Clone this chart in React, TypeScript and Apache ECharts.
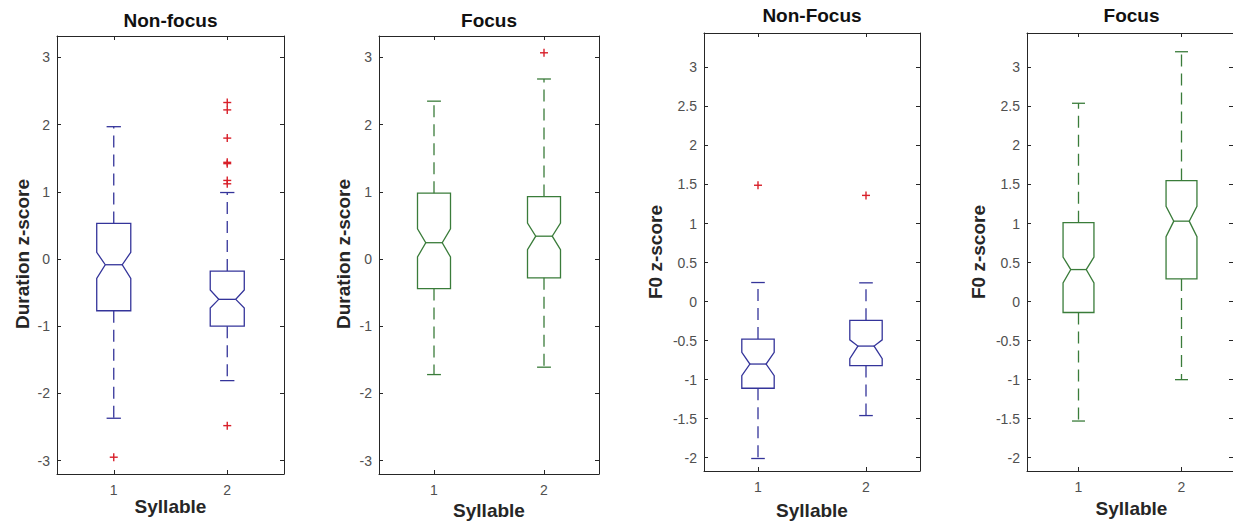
import { useEffect, useRef } from 'react';
import * as echarts from 'echarts';

const categories = ['1', '2'];

// Each box: [lowerWhisker, q1, notchLow, median, notchHigh, q3, upperWhisker]
const durationNonFocusBoxes = [
  [-2.37, -0.77, -0.29, -0.085, 0.1, 0.53, 1.97],
  [-1.81, -1.0, -0.73, -0.6, -0.46, -0.18, 0.99],
];
const durationNonFocusOutliers = [
  [0, -2.95],
  [1, 2.33], [1, 2.22], [1, 1.8], [1, 1.44], [1, 1.42], [1, 1.17], [1, 1.12], [1, -2.48],
];

const durationFocusBoxes = [
  [-1.72, -0.44, 0.03, 0.243, 0.45, 0.98, 2.35],
  [-1.61, -0.28, 0.14, 0.34, 0.535, 0.93, 2.68],
];
const durationFocusOutliers = [[1, 3.07]];

const f0NonFocusBoxes = [
  [-2.01, -1.11, -0.95, -0.8, -0.65, -0.48, 0.244],
  [-1.46, -0.82, -0.73, -0.57, -0.49, -0.24, 0.24],
];
const f0NonFocusOutliers = [[0, 1.49], [1, 1.36]];

const f0FocusBoxes = [
  [-1.53, -0.14, 0.24, 0.41, 0.57, 1.01, 2.54],
  [-1.0, 0.29, 0.83, 1.03, 1.22, 1.55, 3.2],
];
const f0FocusOutliers: number[][] = [];

const durationTicks = [-3, -2, -1, 0, 1, 2, 3];
const f0Ticks = [-2, -1.5, -1, -0.5, 0, 0.5, 1, 1.5, 2, 2.5, 3];

const titles = ['Non-focus', 'Focus', 'Non-Focus', 'Focus'];
const yNames = ['Duration z-score', 'Duration z-score', 'F0 z-score', 'F0 z-score'];
const xName = 'Syllable';

const BLUE = '#34349a';
const GREEN = '#3a7c3a';
const RED = '#d8202a';
const FONT = '"Liberation Sans", Arial, Helvetica, sans-serif';

const panels = [
  { boxes: durationNonFocusBoxes, outliers: durationNonFocusOutliers, ticks: durationTicks, min: -3.2, max: 3.32, color: BLUE,
    grid: { left: 57, top: 36, width: 227, height: 438 }, titleY: 20, xNameY: 506, yNameX: 22, yNameY: 254 },
  { boxes: durationFocusBoxes, outliers: durationFocusOutliers, ticks: durationTicks, min: -3.2, max: 3.32, color: GREEN,
    grid: { left: 379, top: 36, width: 220, height: 438 }, titleY: 20, xNameY: 510, yNameX: 343, yNameY: 254 },
  { boxes: f0NonFocusBoxes, outliers: f0NonFocusOutliers, ticks: f0Ticks, min: -2.17, max: 3.44, color: BLUE,
    grid: { left: 704, top: 33, width: 216, height: 438 }, titleY: 15, xNameY: 510, yNameX: 655, yNameY: 252 },
  { boxes: f0FocusBoxes, outliers: f0FocusOutliers, ticks: f0Ticks, min: -2.17, max: 3.44, color: GREEN,
    grid: { left: 1027, top: 33, width: 209, height: 438 }, titleY: 15, xNameY: 508, yNameX: 978, yNameY: 252 },
];

export default function App() {
  const ref = useRef<HTMLDivElement>(null);
  useEffect(() => {
    if (!ref.current) return;
    const chart = echarts.init(ref.current, undefined, { renderer: 'svg' });
    const grids: any[] = [];
    const xAxes: any[] = [];
    const yAxes: any[] = [];
    const series: any[] = [];
    const graphics: any[] = [];
    const axisLine = { show: true, onZero: false, lineStyle: { color: '#262626', width: 1 } };
    const tick = { show: true, inside: true, length: 4, lineStyle: { color: '#262626', width: 1 } };

    panels.forEach((p, i) => {
      grids.push({ ...p.grid, containLabel: false });
      xAxes.push({
        type: 'category', gridIndex: i, data: categories, position: 'bottom', boundaryGap: true,
        axisLine, axisTick: { ...tick, alignWithLabel: true },
        axisLabel: { color: '#505050', fontSize: 14, fontFamily: FONT, margin: 9 },
        splitLine: { show: false },
      });
      xAxes.push({
        type: 'category', gridIndex: i, data: categories, position: 'top', boundaryGap: true,
        axisLine, axisTick: { ...tick, alignWithLabel: true }, axisLabel: { show: false }, splitLine: { show: false },
      });
      yAxes.push({
        type: 'value', gridIndex: i, min: p.min, max: p.max, position: 'left',
        axisLine, axisTick: { ...tick, customValues: p.ticks },
        axisLabel: { color: '#505050', fontSize: 14, fontFamily: FONT, margin: 7, customValues: p.ticks,
          formatter: (v: number) => String(v) },
        splitLine: { show: false },
      });
      yAxes.push({
        type: 'value', gridIndex: i, min: p.min, max: p.max, position: 'right',
        axisLine, axisTick: { ...tick, customValues: p.ticks }, axisLabel: { show: false, customValues: p.ticks },
        splitLine: { show: false },
      });
      const color = p.color;
      series.push({
        type: 'custom', xAxisIndex: i * 2, yAxisIndex: i * 2, clip: false,
        data: p.boxes.map((b, ci) => [ci, ...b]),
        encode: { x: 0, y: [1, 2, 3, 4, 5, 6, 7] },
        renderItem: (_params: any, api: any) => {
          const ci = api.value(0);
          const v = [1, 2, 3, 4, 5, 6, 7].map((k) => api.value(k));
          const [wl, q1, nl, med, nh, q3, wh] = v;
          const x = api.coord([ci, med])[0];
          const y = (val: number) => api.coord([ci, val])[1];
          const band = api.size([1, 0])[0];
          const hw = band * 0.15;
          const nw = hw * 0.5;
          const cap = hw * 0.42;
          const solid = { stroke: color, lineWidth: 1.3, fill: 'none' };
          const dashed = { stroke: color, lineWidth: 1.3, lineDash: [12, 7] };
          return {
            type: 'group',
            children: [
              { type: 'polygon', shape: { points: [
                [x - hw, y(q3)], [x + hw, y(q3)], [x + hw, y(nh)], [x + nw, y(med)], [x + hw, y(nl)],
                [x + hw, y(q1)], [x - hw, y(q1)], [x - hw, y(nl)], [x - nw, y(med)], [x - hw, y(nh)],
              ] }, style: solid },
              { type: 'line', shape: { x1: x - nw, y1: y(med), x2: x + nw, y2: y(med) }, style: solid },
              { type: 'line', shape: { x1: x, y1: y(q3), x2: x, y2: y(wh) }, style: dashed },
              { type: 'line', shape: { x1: x, y1: y(q1), x2: x, y2: y(wl) }, style: dashed },
              { type: 'line', shape: { x1: x - cap, y1: y(wh), x2: x + cap, y2: y(wh) }, style: solid },
              { type: 'line', shape: { x1: x - cap, y1: y(wl), x2: x + cap, y2: y(wl) }, style: solid },
            ],
          };
        },
      });
      series.push({
        type: 'custom', xAxisIndex: i * 2, yAxisIndex: i * 2, clip: false,
        data: p.outliers,
        renderItem: (_params: any, api: any) => {
          const c = api.coord([api.value(0), api.value(1)]);
          const s = 4;
          const st = { stroke: RED, lineWidth: 1.4 };
          return {
            type: 'group',
            children: [
              { type: 'line', shape: { x1: c[0] - s, y1: c[1], x2: c[0] + s, y2: c[1] }, style: st },
              { type: 'line', shape: { x1: c[0], y1: c[1] - s, x2: c[0], y2: c[1] + s }, style: st },
            ],
          };
        },
      });
      const cx = p.grid.left + p.grid.width / 2;
      const boldStyle = { font: `bold 19px ${FONT}`, fill: '#111', textAlign: 'center', textVerticalAlign: 'middle' };
      graphics.push({ type: 'text', x: cx, y: p.titleY, style: { ...boldStyle, text: titles[i] } });
      graphics.push({ type: 'text', x: cx, y: p.xNameY, style: { ...boldStyle, fill: '#262626', text: xName } });
      graphics.push({ type: 'text', x: p.yNameX, y: p.yNameY, rotation: Math.PI / 2,
        style: { ...boldStyle, fill: '#262626', text: yNames[i] } });
    });

    chart.setOption({
      animation: false,
      backgroundColor: '#ffffff',
      grid: grids,
      xAxis: xAxes,
      yAxis: yAxes,
      series,
      graphic: graphics,
    });
    return () => chart.dispose();
  }, []);
  return <div ref={ref} style={{ position: 'fixed', left: 0, top: 0, width: 1233, height: 523 }} />;
}
